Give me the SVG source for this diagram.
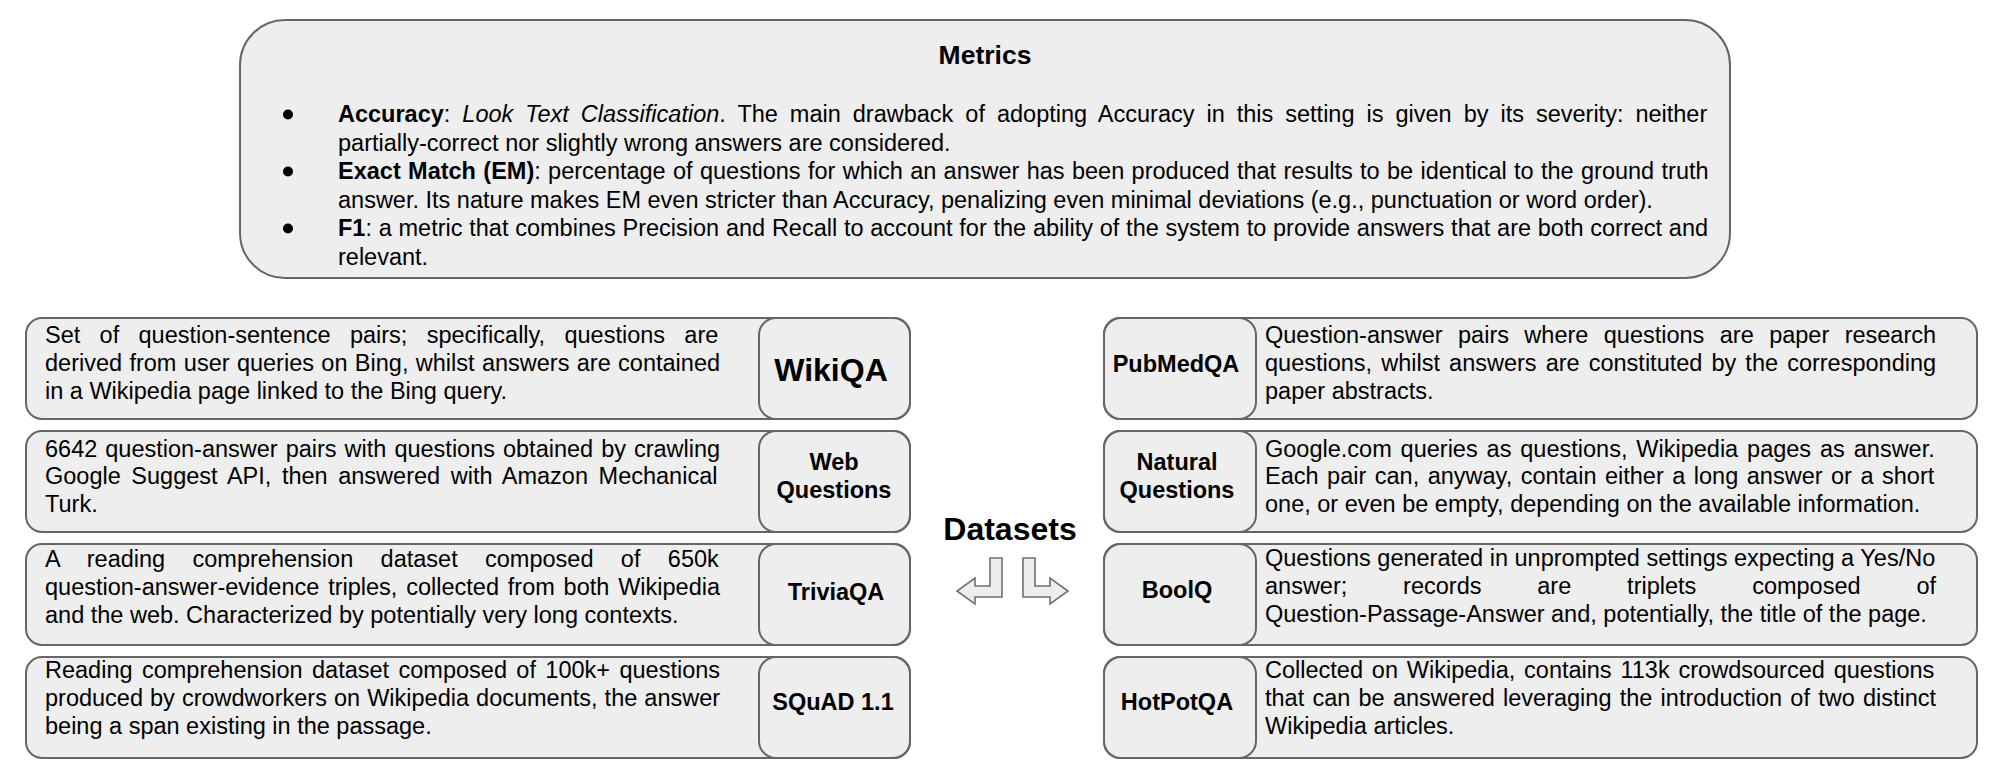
<svg xmlns="http://www.w3.org/2000/svg" width="1996" height="770" viewBox="0 0 1996 770">
  <style>
    .box { fill: #eeeeee; stroke: #666666; stroke-width: 2; }
    .arrow { fill: #eeeeee; stroke: #707070; stroke-width: 1.6; stroke-linejoin: miter; }
    .t { font-family: "Liberation Sans", Arial, sans-serif; font-size: 23.5px; fill: #000000; }
    .b { font-weight: bold; }
    .i { font-style: italic; }
    .lab { font-family: "Liberation Sans", Arial, sans-serif; font-size: 23.5px; font-weight: bold; fill: #000000; text-anchor: middle; }
    .big { font-size: 32px; }
  </style>

  <rect width="1996" height="770" fill="#ffffff"/>

  <!-- Metrics panel -->
  <g id="metrics">
    <rect class="box" x="240" y="20" width="1490" height="258" rx="45" ry="45"/>
    <text class="lab" x="985" y="64" style="font-size:26.5px">Metrics</text>
    <circle cx="288" cy="114.5" r="5"/>
    <circle cx="288" cy="171.5" r="5"/>
    <circle cx="288" cy="228.5" r="5"/>
    <text class="t" x="338" y="122" style="word-spacing:5.46px"><tspan class="b">Accuracy</tspan>: <tspan class="i">Look Text Classification</tspan>. The main drawback of adopting Accuracy in this setting is given by its severity: neither</text>
    <text class="t" x="338" y="150.5">partially-correct nor slightly wrong answers are considered.</text>
    <text class="t" x="338" y="179" style="word-spacing:0.82px"><tspan class="b">Exact Match (EM)</tspan>: percentage of questions for which an answer has been produced that results to be identical to the ground truth</text>
    <text class="t" x="338" y="207.5">answer. Its nature makes EM even stricter than Accuracy, penalizing even minimal deviations (e.g., punctuation or word order).</text>
    <text class="t" x="338" y="236" style="word-spacing:0.22px"><tspan class="b">F1</tspan>: a metric that combines Precision and Recall to account for the ability of the system to provide answers that are both correct and</text>
    <text class="t" x="338" y="264.5">relevant.</text>
  </g>

  <!-- Centre title -->
  <g id="datasets">
    <text class="lab big" x="1010" y="540">Datasets</text>
  </g>

  <!-- Left column -->
  <g id="wikiqa">
    <rect class="box" x="26" y="318" width="884" height="101" rx="16" ry="16"/>
    <rect class="box" x="759" y="318" width="151" height="101" rx="17" ry="17"/>
    <text class="t" x="45" y="343" style="word-spacing:12.8px">Set of question-sentence pairs; specifically, questions are</text>
    <text class="t" x="45" y="371" style="word-spacing:0.84px">derived from user queries on Bing, whilst answers are contained</text>
    <text class="t" x="45" y="399">in a Wikipedia page linked to the Bing query.</text>
    <text class="lab big" x="831" y="381">WikiQA</text>
  </g>

  <g id="webquestions">
    <rect class="box" x="26" y="431" width="884" height="101" rx="16" ry="16"/>
    <rect class="box" x="759" y="431" width="151" height="101" rx="17" ry="17"/>
    <text class="t" x="45" y="457" style="word-spacing:1.46px">6642 question-answer pairs with questions obtained by crawling</text>
    <text class="t" x="45" y="484" style="word-spacing:4.06px">Google Suggest API, then answered with Amazon Mechanical</text>
    <text class="t" x="45" y="512">Turk.</text>
    <text class="lab" x="834" y="470">Web</text>
    <text class="lab" x="834" y="498">Questions</text>
  </g>

  <g id="triviaqa">
    <rect class="box" x="26" y="544" width="884" height="101" rx="16" ry="16"/>
    <rect class="box" x="759" y="544" width="151" height="101" rx="17" ry="17"/>
    <text class="t" x="45" y="567" style="word-spacing:20.85px">A reading comprehension dataset composed of 650k</text>
    <text class="t" x="45" y="595" style="word-spacing:2.3px">question-answer-evidence triples, collected from both Wikipedia</text>
    <text class="t" x="45" y="623">and the web. Characterized by potentially very long contexts.</text>
    <text class="lab" x="836" y="600">TriviaQA</text>
  </g>

  <g id="squad">
    <rect class="box" x="26" y="657" width="884" height="101" rx="16" ry="16"/>
    <rect class="box" x="759" y="657" width="151" height="101" rx="17" ry="17"/>
    <text class="t" x="45" y="678" style="word-spacing:2.88px">Reading comprehension dataset composed of 100k+ questions</text>
    <text class="t" x="45" y="706" style="word-spacing:0.53px">produced by crowdworkers on Wikipedia documents, the answer</text>
    <text class="t" x="45" y="734">being a span existing in the passage.</text>
    <text class="lab" x="833" y="710">SQuAD 1.1</text>
  </g>

  <!-- Right column -->
  <g id="pubmedqa">
    <rect class="box" x="1104" y="318" width="873" height="101" rx="16" ry="16"/>
    <rect class="box" x="1104" y="318" width="152" height="101" rx="17" ry="17"/>
    <text class="t" x="1265" y="343" style="word-spacing:8.87px">Question-answer pairs where questions are paper research</text>
    <text class="t" x="1265" y="371" style="word-spacing:2.56px">questions, whilst answers are constituted by the corresponding</text>
    <text class="t" x="1265" y="399">paper abstracts.</text>
    <text class="lab" x="1176" y="372">PubMedQA</text>
  </g>

  <g id="naturalquestions">
    <rect class="box" x="1104" y="431" width="873" height="101" rx="16" ry="16"/>
    <rect class="box" x="1104" y="431" width="152" height="101" rx="17" ry="17"/>
    <text class="t" x="1265" y="457" style="word-spacing:2.37px">Google.com queries as questions, Wikipedia pages as answer.</text>
    <text class="t" x="1265" y="484" style="word-spacing:1.98px">Each pair can, anyway, contain either a long answer or a short</text>
    <text class="t" x="1265" y="512">one, or even be empty, depending on the available information.</text>
    <text class="lab" x="1177" y="470">Natural</text>
    <text class="lab" x="1177" y="498">Questions</text>
  </g>

  <g id="boolq">
    <rect class="box" x="1104" y="544" width="873" height="101" rx="16" ry="16"/>
    <rect class="box" x="1104" y="544" width="152" height="101" rx="17" ry="17"/>
    <text class="t" x="1265" y="566">Questions generated in unprompted settings expecting a Yes/No</text>
    <text class="t" x="1265" y="594" style="word-spacing:49.3px">answer; records are triplets composed of</text>
    <text class="t" x="1265" y="622">Question-Passage-Answer and, potentially, the title of the page.</text>
    <text class="lab" x="1177" y="598">BoolQ</text>
  </g>

  <g id="hotpotqa">
    <rect class="box" x="1104" y="657" width="873" height="101" rx="16" ry="16"/>
    <rect class="box" x="1104" y="657" width="152" height="101" rx="17" ry="17"/>
    <text class="t" x="1265" y="678" style="word-spacing:2.33px">Collected on Wikipedia, contains 113k crowdsourced questions</text>
    <text class="t" x="1265" y="706" style="word-spacing:1.7px">that can be answered leveraging the introduction of two distinct</text>
    <text class="t" x="1265" y="734">Wikipedia articles.</text>
    <text class="lab" x="1177" y="710">HotPotQA</text>
  </g>

  <!-- Bent arrows pointing to each column -->
  <g id="connectors">
    <path class="arrow" d="M990,558 H1002 V597 H975 V604 L957,591 L975,578 V586 H990 Z"/>
    <path class="arrow" d="M1035,558 H1023 V597 H1050 V604 L1068,591 L1050,578 V586 H1035 Z"/>
  </g>
</svg>
